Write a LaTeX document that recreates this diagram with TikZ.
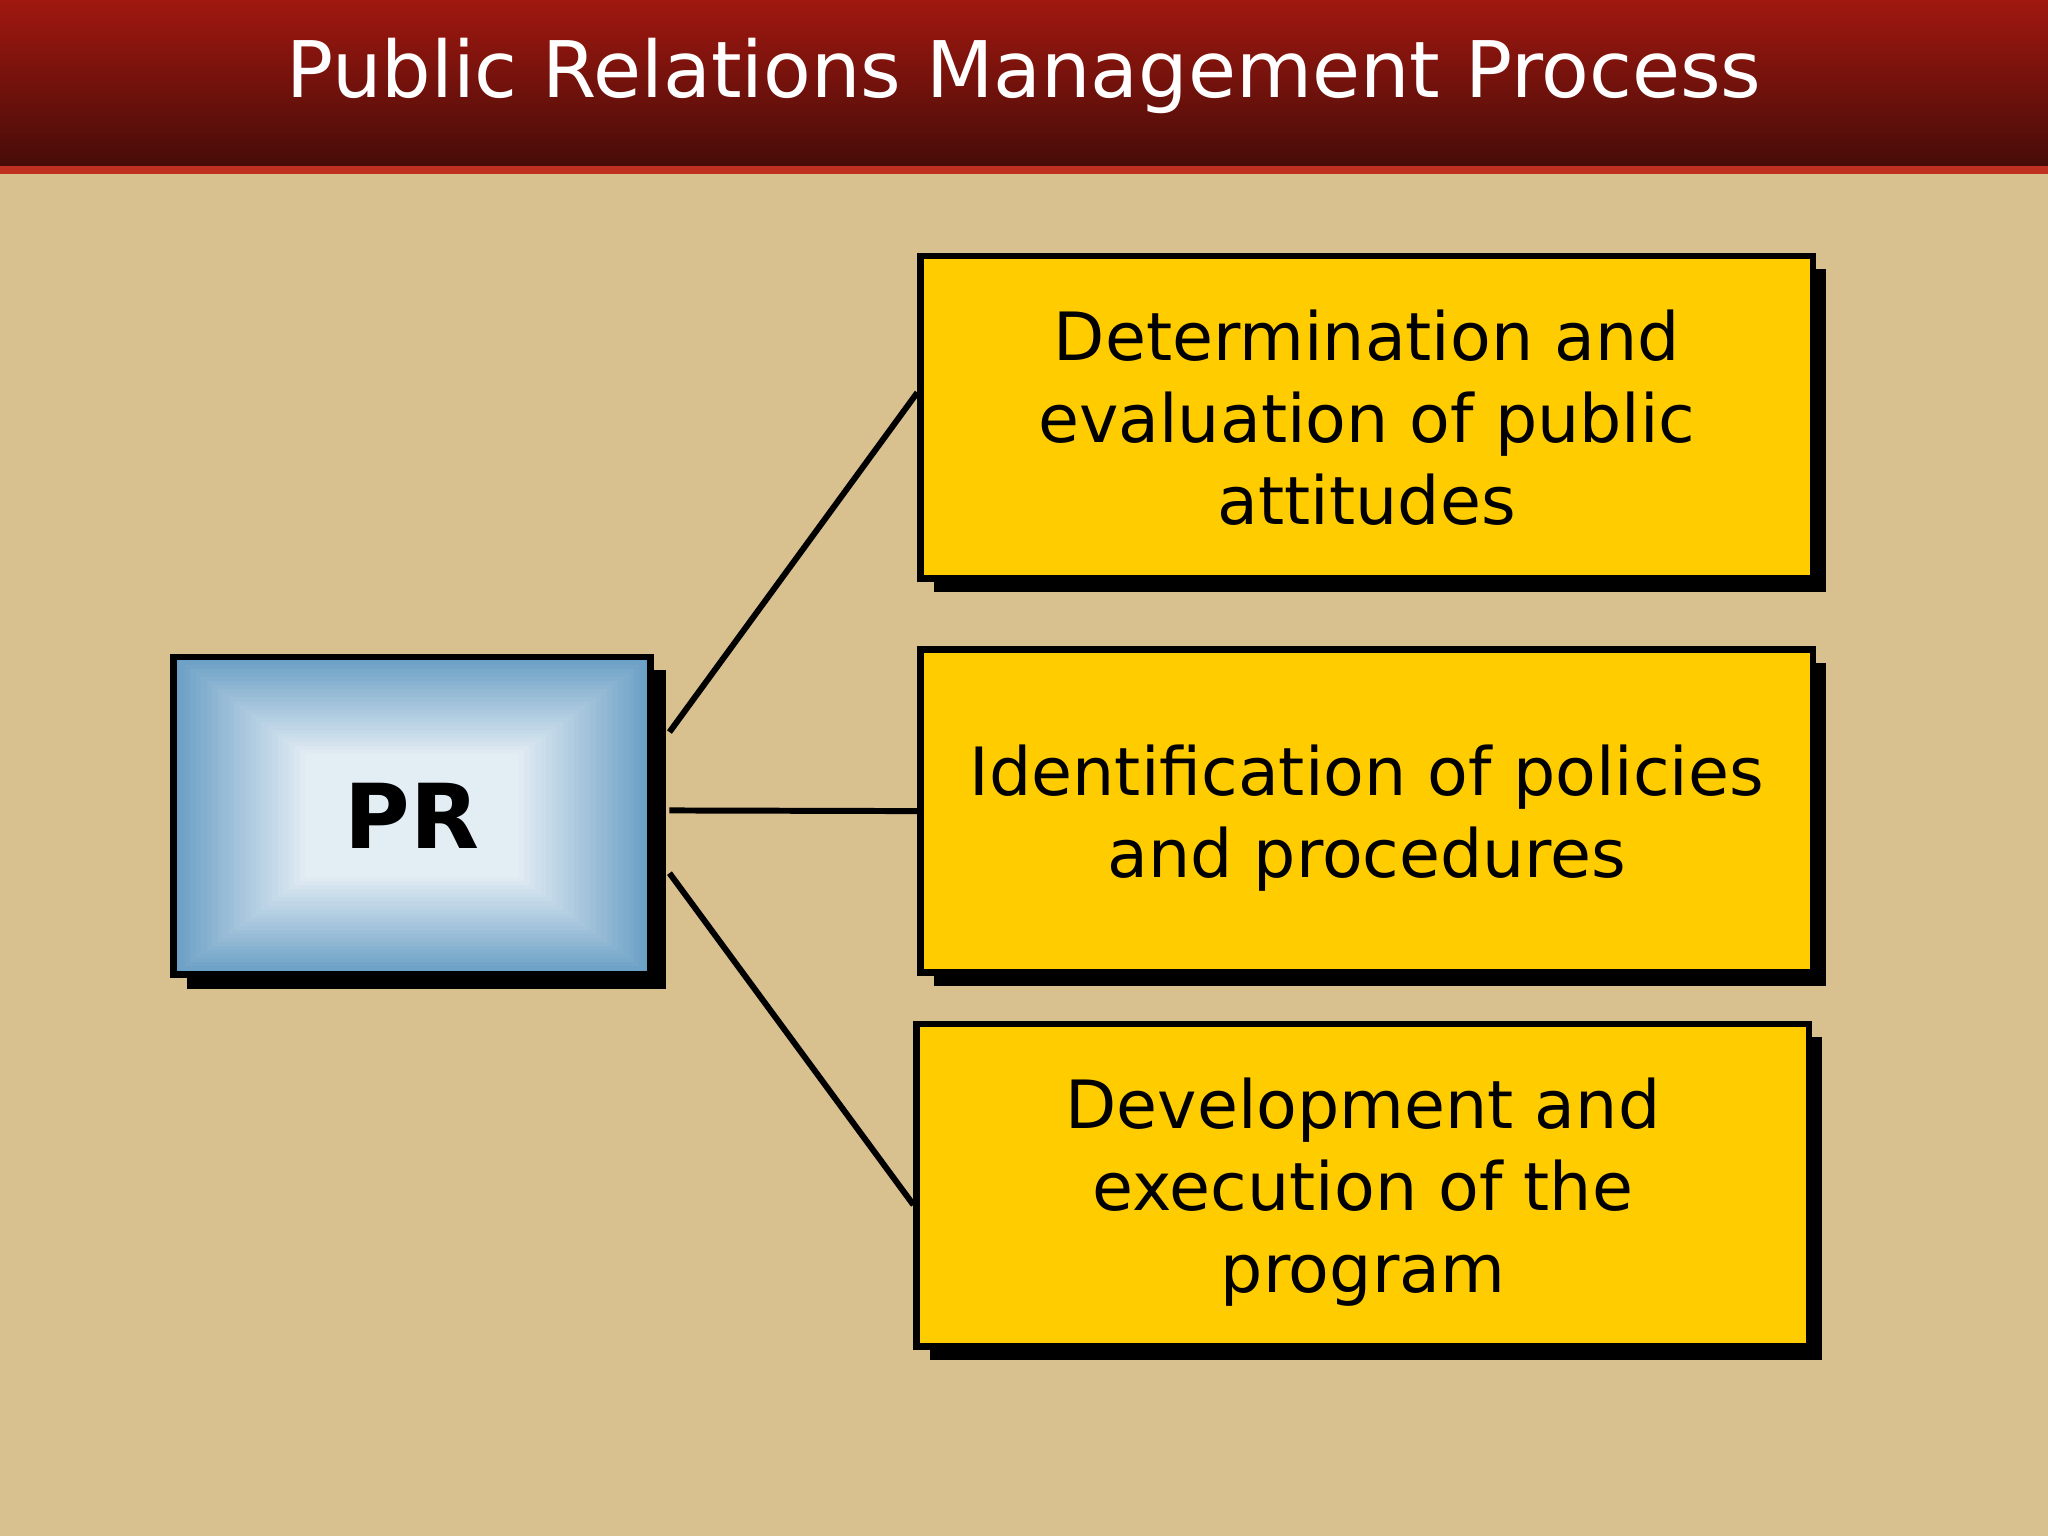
\documentclass[tikz,border=0pt]{standalone}
\usepackage{fontspec}
\setmainfont{DejaVu Sans}
\usetikzlibrary{calc,shadows}
\definecolor{bg}{HTML}{D8C08F}
\definecolor{boxy}{HTML}{FFCC00}
\definecolor{bluee}{HTML}{6A9FC5}
\definecolor{hdtop}{HTML}{A01810}
\definecolor{hdbot}{HTML}{460C08}
\definecolor{hdline}{HTML}{C03020}
\tikzset{
  item/.style={draw=black,line width=1.4pt,fill=boxy,minimum width=6.83cm,minimum height=2.47cm,
    align=center,font=\fontsize{14.5}{17.8}\selectfont,text depth=0pt,
    drop shadow={shadow xshift=0.1cm,shadow yshift=-0.1cm,fill=black,opacity=1}},
  link/.style={line width=1.3pt,black}
}
\begin{document}
\begin{tikzpicture}[x=0.01cm,y=-0.01cm]
\useasboundingbox (0,0) rectangle (1568,1176);
\fill[bg] (0,0) rectangle (1568,1176);
\shade[top color=hdtop,bottom color=hdbot] (0,0) rectangle (1568,128);
\fill[hdline] (0,127) rectangle (1568,133);
\node[text=white,font=\fontsize{17}{20}\selectfont] (title) at (784,58) {Public Relations Management Process};
% PR box
\fill[black] (143,513) rectangle (510,757);
\foreach \i in {0,...,24}{
  \pgfmathsetmacro{\dx}{\i*4.2}
  \pgfmathsetmacro{\dy}{\i*3.1}
  \pgfmathsetmacro{\m}{min(85,\i*3.4)}
  \fill[white!\m!bluee] (133+\dx,503+\dy) rectangle (498-\dx,746-\dy);
}
\node[draw=black,line width=1.4pt,minimum width=3.65cm,minimum height=2.43cm,font=\bfseries\fontsize{19.5}{22}\selectfont] (pr) at (315.5,624.5) {PR};
\node[item] (b1) at (1046.5,319.5) {Determination and\\evaluation of public\\attitudes};
\node[item] (b2) at (1046.5,621) {Identification of policies\\and procedures};
\node[item] (b3) at (1043.5,907.5) {Development and\\execution of the\\program};
\coordinate (s1) at ($(pr.east)+(12,-64)$);
\coordinate (s2) at ($(pr.east)+(12,-4)$);
\coordinate (s3) at ($(pr.east)+(12,44)$);
\draw[link] (s1) -- ($(b1.west)+(0,-19)$);
\draw[link] (s2) -- (b2.west);
\draw[link] (s3) -- ($(b3.west)+(0,15)$);
\end{tikzpicture}
\end{document}
